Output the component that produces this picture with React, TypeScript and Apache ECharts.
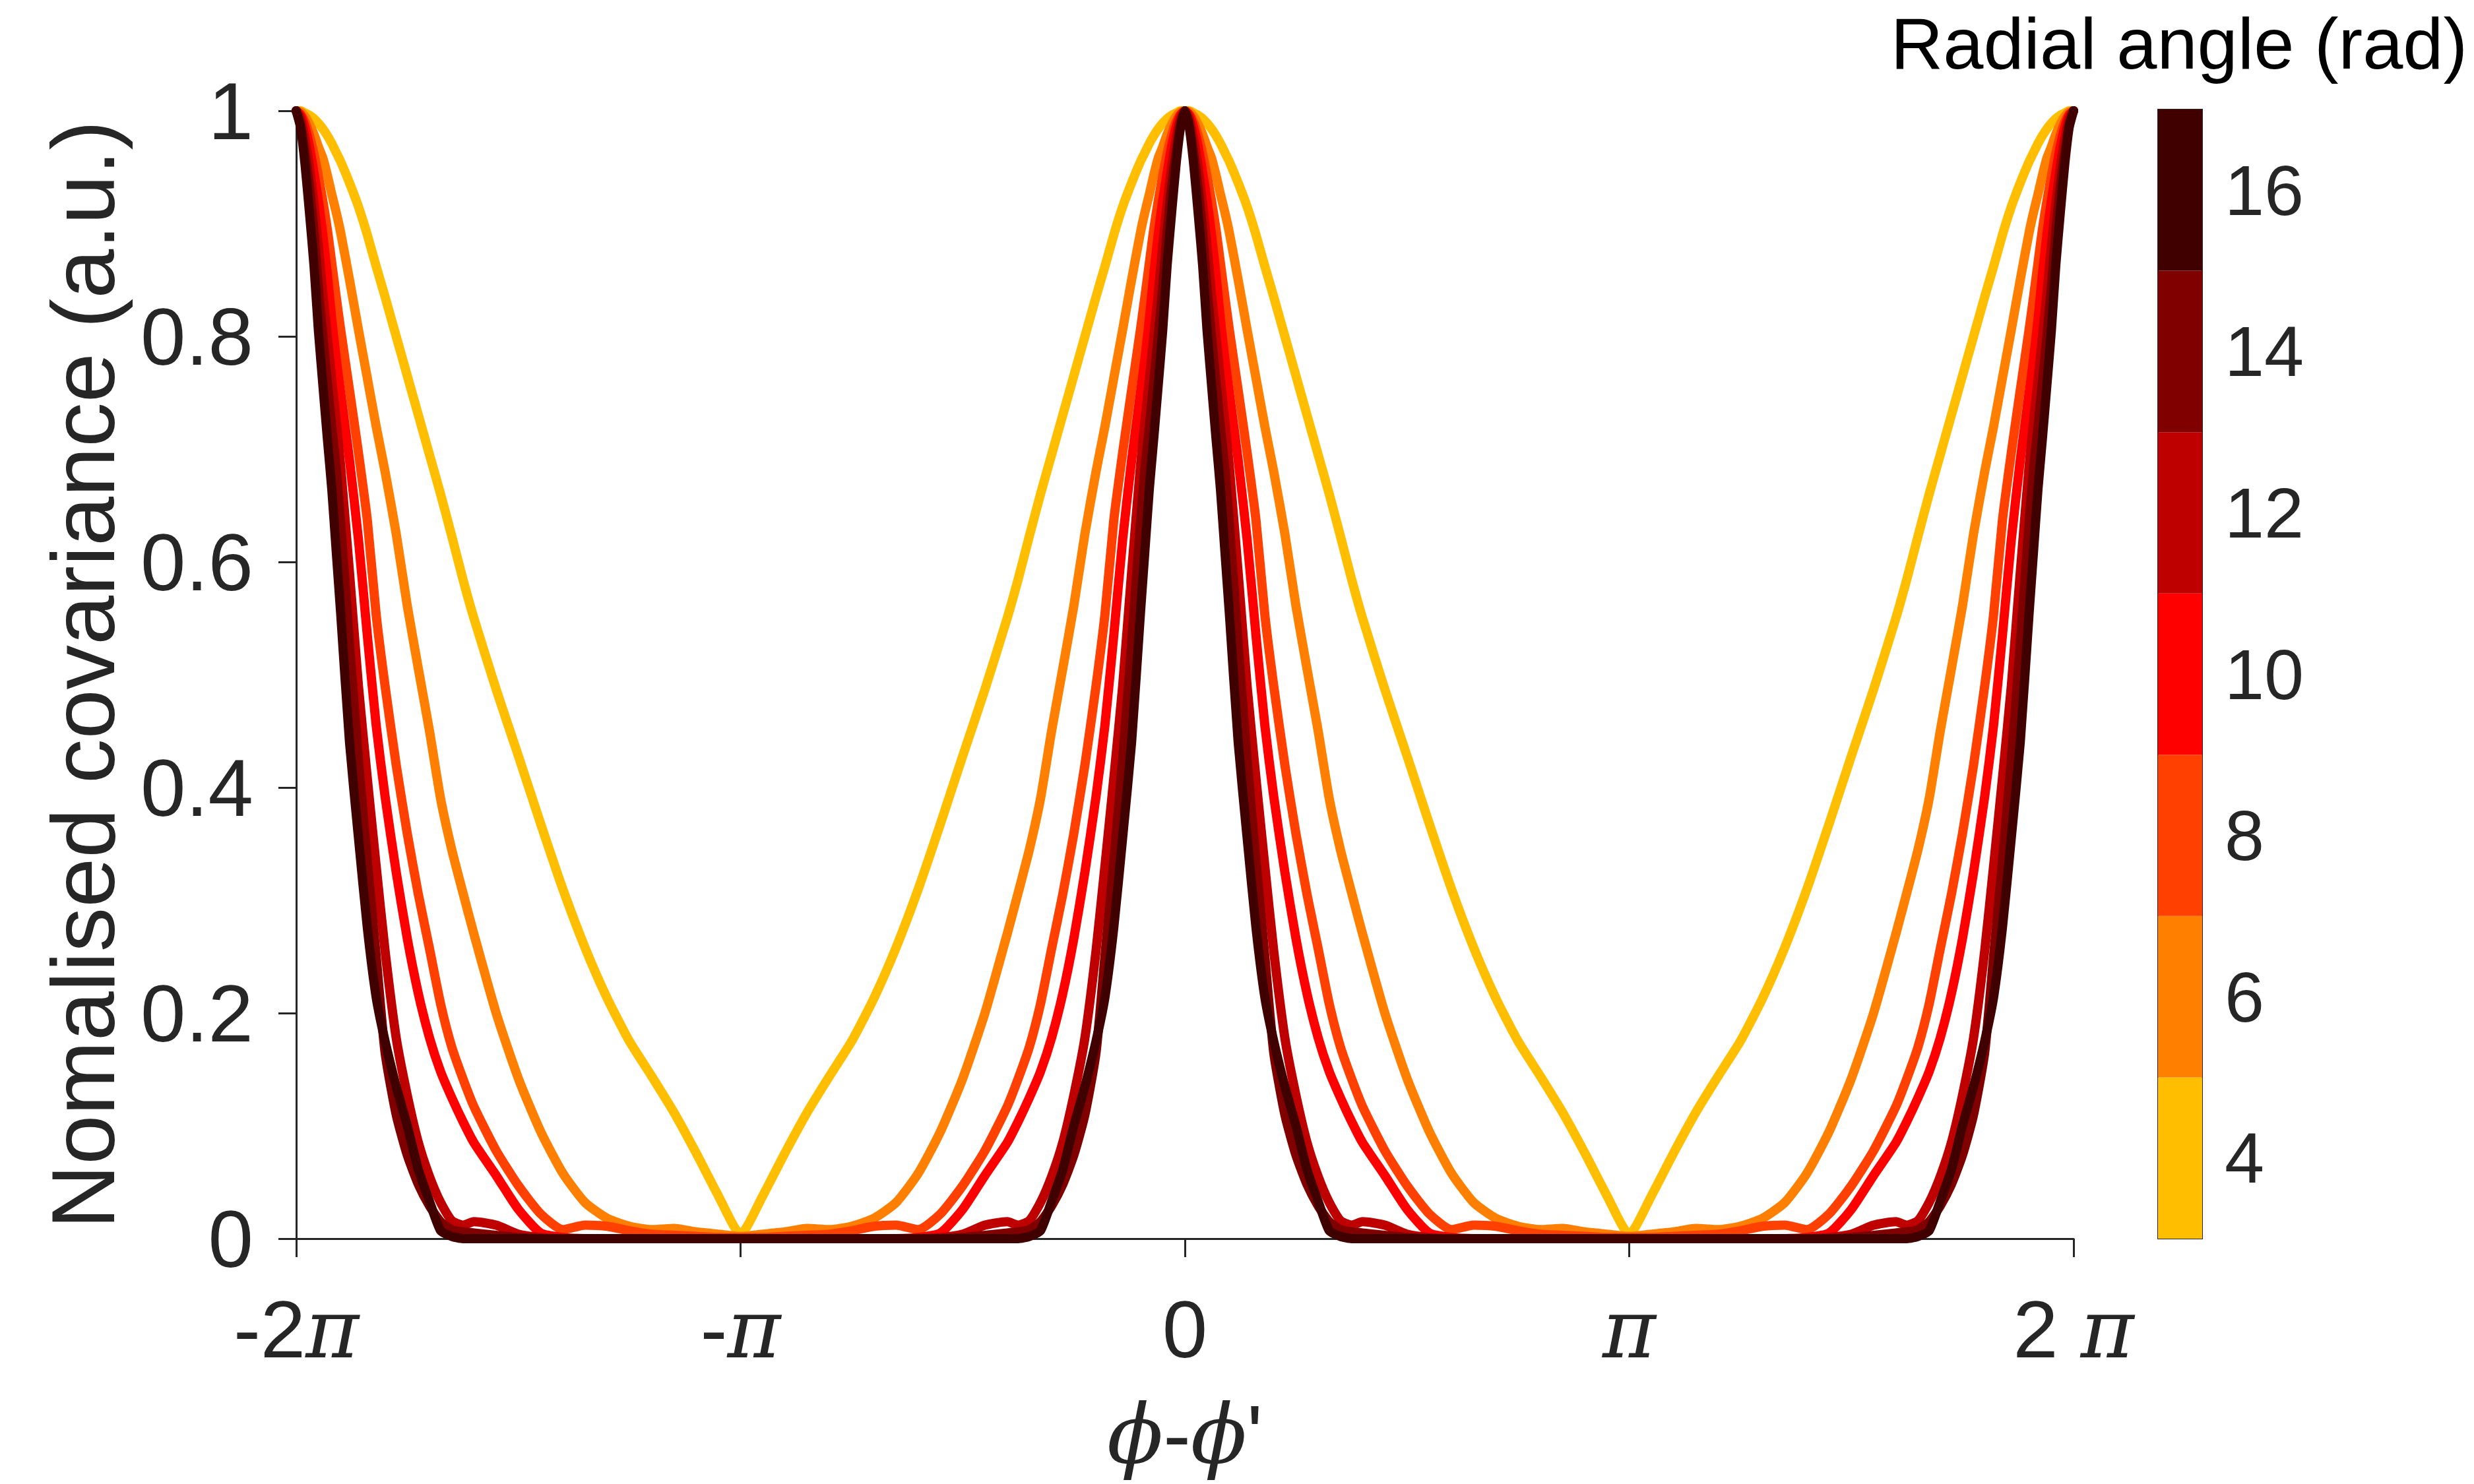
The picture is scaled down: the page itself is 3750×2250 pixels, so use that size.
import React, { useEffect, useRef } from 'react';
import * as echarts from 'echarts';

// Radial angles (rad) of the seven curves and their colours (hot colormap)
const radialAngles = [4, 6, 8, 10, 12, 14, 16];
const lineColors = ['#FFBF00', '#FF8000', '#FF4000', '#FF0000', '#BF0000', '#800000', '#400000'];

// Offset from a peak, as a fraction of pi (0 = peak, 1 = trough)
const halfPeriodFraction = [
  0, 0.01, 0.02, 0.03, 0.04, 0.05, 0.06, 0.07, 0.08, 0.09,
  0.10, 0.12, 0.14, 0.16, 0.18, 0.20, 0.225, 0.25, 0.275, 0.30,
  0.325, 0.35, 0.375, 0.40, 0.45, 0.50, 0.55, 0.60, 0.65, 0.70,
  0.75, 0.80, 0.85, 0.90, 0.95, 1.0,
];

// Normalised covariance, one array per radial angle
const cov4 = [
  1.0, 1.0, 0.998, 0.996, 0.993, 0.989, 0.984, 0.978, 0.971, 0.963,
  0.955, 0.936, 0.915, 0.89, 0.862, 0.835, 0.80, 0.765, 0.73, 0.695,
  0.66, 0.623, 0.585, 0.55, 0.487, 0.428, 0.368, 0.31, 0.258, 0.213,
  0.175, 0.144, 0.112, 0.076, 0.038, 0.004,
];
const cov6 = [
  1.0, 0.999, 0.995, 0.988, 0.979, 0.968, 0.958, 0.943, 0.926, 0.910,
  0.892, 0.85, 0.806, 0.763, 0.72, 0.68, 0.625, 0.561, 0.505, 0.45,
  0.39, 0.345, 0.307, 0.27, 0.20, 0.142, 0.095, 0.058, 0.032, 0.018,
  0.011, 0.008, 0.009, 0.006, 0.004, 0.002,
];
const cov8 = [
  1.0, 0.997, 0.99, 0.978, 0.962, 0.942, 0.92, 0.895, 0.865, 0.835,
  0.806, 0.752, 0.697, 0.637, 0.553, 0.49, 0.42, 0.359, 0.305, 0.257,
  0.208, 0.17, 0.142, 0.117, 0.078, 0.047, 0.022, 0.008, 0.012, 0.011,
  0.007, 0.004, 0.003, 0.002, 0.001, 0.001,
];
const cov10 = [
  1.0, 0.996, 0.985, 0.968, 0.945, 0.92, 0.89, 0.855, 0.815, 0.78,
  0.75, 0.69, 0.62, 0.535, 0.455, 0.392, 0.325, 0.266, 0.217, 0.178,
  0.148, 0.125, 0.104, 0.085, 0.056, 0.026, 0.005, 0.001, 0, 0,
  0, 0, 0, 0, 0, 0,
];
const cov12 = [
  1.0, 0.993, 0.975, 0.95, 0.918, 0.88, 0.838, 0.80, 0.762, 0.725,
  0.685, 0.59, 0.49, 0.408, 0.33, 0.255, 0.178, 0.127, 0.085, 0.055,
  0.032, 0.016, 0.012, 0.015, 0.012, 0.004, 0.001, 0, 0, 0,
  0, 0, 0, 0, 0, 0,
];
const cov14 = [
  1.0, 0.988, 0.962, 0.932, 0.893, 0.843, 0.80, 0.76, 0.72, 0.683,
  0.635, 0.527, 0.425, 0.335, 0.25, 0.165, 0.11, 0.074, 0.048, 0.029,
  0.015, 0.008, 0.006, 0.005, 0.003, 0.001, 0, 0, 0, 0,
  0, 0, 0, 0, 0, 0,
];
const cov16 = [
  1.0, 0.985, 0.952, 0.909, 0.863, 0.805, 0.757, 0.71, 0.665, 0.61,
  0.555, 0.44, 0.356, 0.276, 0.214, 0.175, 0.135, 0.10, 0.061, 0.033,
  0.007, 0.002, 0, 0, 0, 0, 0, 0, 0, 0,
  0, 0, 0, 0, 0, 0,
];
const covariances = [cov4, cov6, cov8, cov10, cov12, cov14, cov16];

// Tick labels (x in units of pi)
const xTickValues = [-2, -1, 0, 1, 2];
const xTickLabels = ['-2π', '-π', '0', 'π', '2 π'];
const colorbarLabels = radialAngles.map(String);

const SANS = '"Liberation Sans", Arial, Helvetica, sans-serif';
const SERIF = '"DejaVu Serif", "Liberation Serif", serif';
const AXIS_COLOR = '#262626';

// Build the curve over [-2pi, 2pi] (x in units of pi) from one half period
function buildCurve(vals: number[]): number[][] {
  const n = halfPeriodFraction.length;
  const pts: number[][] = [];
  for (const k of [-2, -1, 0, 1]) {
    if (k % 2 === 0) {
      for (let i = 0; i < n; i++) {
        if (k !== -2 && i === 0) continue;
        pts.push([k + halfPeriodFraction[i], vals[i]]);
      }
    } else {
      for (let i = n - 1; i >= 0; i--) {
        if (i === n - 1) continue;
        pts.push([k + 1 - halfPeriodFraction[i], vals[i]]);
      }
    }
  }
  return pts;
}

function xLabel(v: number): string {
  const idx = xTickValues.indexOf(Math.round(v));
  if (idx < 0) return '';
  const s = xTickLabels[idx];
  const parts = s.split('π');
  if (parts.length === 1) return `{n|${s}}`;
  return (parts[0] ? `{n|${parts[0]}}` : '') + '{p|π}';
}

export default function App() {
  const ref = useRef<HTMLDivElement>(null);

  useEffect(() => {
    if (!ref.current) return;
    const chart = echarts.init(ref.current, undefined, { renderer: 'svg' });

    const lineSeries = covariances.map((vals, i) => ({
      name: String(radialAngles[i]),
      type: 'line',
      xAxisIndex: 0,
      yAxisIndex: 0,
      data: buildCurve(vals),
      showSymbol: false,
      symbol: 'none',
      smooth: 0.2,
      clip: false,
      lineStyle: { color: lineColors[i], width: 14, cap: 'round', join: 'round' },
      z: 2 + i,
    }));

    const colorbarSeries = {
      type: 'bar',
      xAxisIndex: 1,
      yAxisIndex: 1,
      barCategoryGap: '0%',
      barWidth: '100%',
      data: radialAngles.map((_, i) => ({ value: 1, itemStyle: { color: lineColors[i] } })),
      z: 3,
    };

    const option: any = {
      animation: false,
      backgroundColor: '#ffffff',
      textStyle: { fontFamily: SANS },
      grid: [
        { left: 449, right: 607, top: 168, bottom: 372 },
        {
          left: 3271, right: 412, top: 166, bottom: 372,
          show: true, borderColor: AXIS_COLOR, borderWidth: 2, backgroundColor: 'transparent',
        },
      ],
      xAxis: [
        {
          gridIndex: 0,
          type: 'value',
          min: -2,
          max: 2,
          interval: 1,
          splitLine: { show: false },
          axisLine: { show: true, onZero: false, lineStyle: { color: AXIS_COLOR, width: 3 } },
          axisTick: { show: true, length: 28, lineStyle: { color: AXIS_COLOR, width: 3 } },
          axisLabel: {
            margin: 76,
            formatter: xLabel,
            rich: {
              n: { fontSize: 123, fontFamily: SANS, color: AXIS_COLOR },
              p: { fontSize: 123, fontFamily: SERIF, fontStyle: 'italic', color: AXIS_COLOR },
            },
          },
          name: "{p|ϕ}{m|-}{p|ϕ}{m|'}",
          nameLocation: 'middle',
          nameGap: 234,
          nameTextStyle: {
            rich: {
              p: { fontSize: 125, fontFamily: SERIF, fontStyle: 'italic', color: AXIS_COLOR },
              m: { fontSize: 125, fontFamily: SANS, color: AXIS_COLOR },
            },
          },
        },
        { gridIndex: 1, type: 'value', min: 0, max: 1, show: false },
      ],
      yAxis: [
        {
          gridIndex: 0,
          type: 'value',
          min: 0,
          max: 1,
          interval: 0.2,
          splitLine: { show: false },
          axisLine: { show: true, onZero: false, lineStyle: { color: AXIS_COLOR, width: 3 } },
          axisTick: { show: true, length: 27, lineStyle: { color: AXIS_COLOR, width: 3 } },
          axisLabel: { margin: 65, fontSize: 123, fontFamily: SANS, color: AXIS_COLOR },
          name: 'Nomalised covariance (a.u.)',
          nameLocation: 'middle',
          nameGap: 255,
          nameTextStyle: { fontSize: 135, fontFamily: SANS, color: AXIS_COLOR },
        },
        {
          gridIndex: 1,
          type: 'category',
          data: colorbarLabels,
          position: 'right',
          axisLine: { show: false },
          axisTick: { show: false },
          splitLine: { show: false },
          axisLabel: { margin: 34, fontSize: 108, fontFamily: SANS, color: AXIS_COLOR },
        },
      ],
      graphic: [
        {
          type: 'text',
          x: 3303,
          y: 65,
          style: {
            text: 'Radial angle (rad)',
            fontSize: 110,
            fontFamily: SANS,
            fill: '#000000',
            align: 'center',
            verticalAlign: 'middle',
          },
        },
      ],
      series: [...lineSeries, colorbarSeries],
    };

    chart.setOption(option);
    return () => chart.dispose();
  }, []);

  return (
    <div
      ref={ref}
      style={{ position: 'absolute', left: 0, top: 0, width: 3750, height: 2250, background: '#fff' }}
    />
  );
}
